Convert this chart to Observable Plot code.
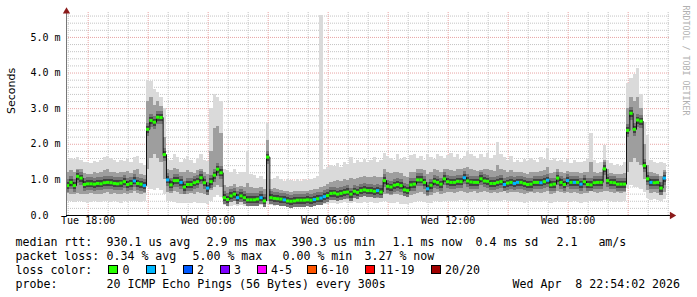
<!DOCTYPE html>
<html><head><meta charset="utf-8">
<script src="https://cdn.jsdelivr.net/npm/d3@7"></script>
<script src="https://cdn.jsdelivr.net/npm/@observablehq/plot@0.6"></script>
<style>
html,body{margin:0;padding:0;background:#fff;}
body{width:697px;height:297px;overflow:hidden;position:relative;font-family:"DejaVu Sans Mono",monospace;}
#chart{position:absolute;left:0;top:0;}
#legend{position:absolute;left:0;top:0;width:697px;height:297px;font-size:11.6px;color:#000;}
#legend .t{position:absolute;white-space:pre;line-height:14px;}
#legend .sw{position:absolute;box-sizing:border-box;width:10px;height:9px;border:1px solid #000;}
</style></head><body>
<div id="chart"></div><div id="legend"></div>
<script>
// ---- data: 10-minute steps starting Tue 16:55 ----
const med = [
0.84,0.93,0.84,1.10,1.05,0.87,0.89,0.89,0.88,0.90,
0.89,0.92,0.93,0.92,0.90,0.89,0.91,0.95,0.87,0.90,
0.97,0.90,0.88,0.84,2.42,2.67,2.62,2.76,2.75,1.71,
1.00,0.86,0.98,0.98,0.93,0.80,0.87,0.87,0.92,0.95,
1.06,0.92,0.77,0.95,1.13,1.30,1.20,0.50,0.45,0.55,
0.60,0.50,0.55,0.50,0.44,0.44,0.44,0.46,0.50,0.41,
1.64,0.50,0.48,0.47,0.46,0.44,0.41,0.40,0.41,0.43,
0.43,0.43,0.44,0.43,0.45,0.47,0.49,0.53,0.56,0.62,
0.63,0.60,0.62,0.65,0.66,0.60,0.68,0.65,0.70,0.72,
0.70,0.70,0.68,0.70,0.66,0.98,0.82,0.80,0.85,0.87,
0.84,0.72,0.70,0.86,0.88,1.00,1.00,0.93,0.75,0.85,
0.96,0.93,0.88,1.03,0.95,0.93,0.93,0.96,0.95,1.06,
0.97,0.94,0.93,0.93,1.03,0.97,0.96,0.90,0.90,0.93,
0.95,0.87,0.91,0.93,0.90,0.93,0.93,0.90,0.87,0.88,
0.93,0.93,0.92,0.95,0.99,0.86,0.88,1.05,0.93,0.87,
0.98,0.93,0.93,0.93,0.88,0.95,0.87,0.86,0.92,0.93,
0.93,1.31,0.98,0.93,0.92,0.88,0.88,0.88,2.39,2.87,
2.42,2.68,2.65,1.40,1.03,0.93,0.92,0.93,0.77,1.05];
const loss = [
0,0,0,0,0,0,0,0,0,0, 0,0,0,0,0,0,0,0,0,0,
1,0,0,1,0,0,0,0,0,0, 1,0,0,0,1,0,0,0,0,0,
0,0,1,0,0,0,0,0,0,0, 0,1,0,0,0,0,0,0,1,0,
0,0,0,0,0,1,0,0,0,0, 0,0,0,0,1,0,1,1,0,0,
0,0,0,0,0,0,0,0,0,0, 0,0,0,1,0,0,0,0,0,0,
0,0,0,0,0,0,0,0,1,0, 0,0,0,0,0,0,0,0,0,1,
0,0,0,0,0,0,0,0,0,0, 0,1,0,0,1,1,0,0,0,0,
0,0,1,0,1,0,0,0,0,0, 1,0,1,0,1,0,0,0,0,0,
0,0,0,0,0,0,0,0,0,0, 0,0,0,0,0,1,0,0,0,1];
const smokeTop = [
1.55,1.60,1.58,1.62,1.55,1.50,1.48,1.46,1.52,1.50,
1.55,1.62,1.65,1.60,1.55,1.50,1.55,1.52,1.58,1.50,
1.62,1.65,1.45,1.40,3.80,3.75,3.55,3.45,3.30,3.00,
1.60,1.55,1.70,1.62,1.50,1.58,1.66,1.55,1.45,1.60,
1.70,1.55,1.52,3.00,3.40,3.30,3.20,1.30,1.25,1.20,
1.28,1.15,1.22,1.20,1.80,1.15,1.12,1.05,1.10,1.00,
2.58,1.00,1.05,1.10,1.02,0.95,1.00,0.98,0.95,1.00,
0.95,1.02,0.98,1.00,1.05,1.10,5.62,1.30,1.35,1.40,
1.38,1.45,1.35,1.50,1.42,1.62,1.45,1.55,1.50,1.58,
1.48,1.55,1.62,1.50,1.55,1.74,1.65,1.60,1.55,1.70,
1.57,1.62,1.55,1.68,1.72,1.60,1.66,1.55,1.70,1.62,
1.58,1.72,1.66,1.60,1.68,1.75,1.62,1.70,1.58,1.66,
1.80,1.72,1.65,1.60,1.70,1.62,1.75,1.60,1.68,2.06,
1.70,1.62,1.55,1.66,1.50,1.55,1.50,1.58,1.52,1.60,
1.55,1.48,1.62,1.58,1.88,1.55,1.60,1.52,1.55,1.50,
1.58,1.45,1.55,1.50,1.48,1.52,1.58,2.30,1.55,1.45,
1.50,1.97,1.55,1.45,1.40,1.42,1.38,1.50,3.70,3.85,
3.95,4.13,3.40,2.60,2.25,1.55,1.50,1.45,1.50,1.46];
const smokeHi = [
1.20,1.25,1.22,1.30,1.28,1.18,1.15,1.16,1.20,1.18,
1.22,1.25,1.28,1.22,1.20,1.18,1.20,1.22,1.24,1.18,
1.26,1.28,1.15,1.12,3.20,3.30,3.10,3.20,3.05,2.20,
1.30,1.25,1.32,1.28,1.22,1.20,1.25,1.22,1.18,1.25,
1.30,1.22,1.15,1.80,2.45,2.50,2.30,0.85,0.80,0.82,
0.88,0.80,0.82,0.80,0.90,0.78,0.75,0.76,0.78,0.72,
2.10,0.72,0.75,0.74,0.70,0.68,0.66,0.65,0.66,0.68,
0.66,0.68,0.68,0.70,0.72,0.74,0.78,0.82,0.88,0.92,
0.95,0.98,0.95,1.00,0.98,1.05,1.02,1.05,1.08,1.10,
1.06,1.08,1.10,1.06,1.08,1.30,1.22,1.18,1.20,1.22,
1.18,1.10,1.08,1.20,1.22,1.28,1.30,1.25,1.15,1.20,
1.28,1.25,1.22,1.30,1.28,1.25,1.24,1.28,1.30,1.32,
1.35,1.28,1.25,1.24,1.26,1.28,1.30,1.25,1.24,1.40,
1.30,1.26,1.22,1.25,1.22,1.22,1.20,1.18,1.16,1.20,
1.22,1.20,1.24,1.25,1.35,1.18,1.20,1.28,1.22,1.18,
1.24,1.22,1.20,1.22,1.18,1.20,1.22,1.50,1.20,1.18,
1.22,1.55,1.30,1.18,1.16,1.15,1.15,1.18,3.00,3.30,
3.20,3.30,3.00,2.00,1.40,1.20,1.18,1.15,1.10,1.25];
const smokeLo = [
0.62,0.60,0.58,0.62,0.60,0.58,0.60,0.62,0.60,0.58,
0.60,0.62,0.64,0.60,0.62,0.60,0.58,0.62,0.60,0.62,
0.66,0.62,0.60,0.62,1.30,1.60,1.70,1.60,1.50,1.00,
0.65,0.62,0.66,0.64,0.60,0.58,0.60,0.62,0.60,0.64,
0.62,0.60,0.55,0.70,0.80,0.85,0.80,0.36,0.34,0.36,
0.38,0.35,0.36,0.34,0.33,0.34,0.33,0.34,0.35,0.32,
0.40,0.36,0.35,0.34,0.34,0.33,0.32,0.32,0.32,0.33,
0.33,0.33,0.34,0.33,0.34,0.36,0.38,0.40,0.42,0.44,
0.45,0.44,0.46,0.48,0.46,0.48,0.50,0.48,0.50,0.52,
0.50,0.52,0.50,0.48,0.50,0.60,0.58,0.55,0.58,0.60,
0.55,0.52,0.50,0.55,0.58,0.62,0.64,0.60,0.52,0.56,
0.62,0.64,0.60,0.62,0.65,0.64,0.62,0.64,0.66,0.65,
0.62,0.64,0.66,0.62,0.64,0.66,0.65,0.62,0.64,0.62,
0.64,0.66,0.62,0.64,0.65,0.64,0.62,0.60,0.62,0.64,
0.62,0.64,0.62,0.64,0.66,0.60,0.62,0.66,0.64,0.62,
0.64,0.62,0.64,0.62,0.60,0.62,0.62,0.66,0.64,0.62,
0.64,0.68,0.66,0.64,0.62,0.64,0.62,0.64,1.20,1.50,
1.60,1.50,1.40,1.00,0.70,0.62,0.64,0.62,0.58,0.64];
const smokeBot = [
0.40,0.38,0.36,0.38,0.40,0.36,0.35,0.36,0.38,0.36,
0.37,0.38,0.40,0.36,0.38,0.36,0.35,0.38,0.36,0.38,
0.40,0.38,0.36,0.40,0.80,0.72,0.70,0.75,0.70,0.60,
0.40,0.38,0.36,0.34,0.35,0.33,0.35,0.34,0.36,0.35,
0.34,0.33,0.32,0.38,0.50,0.55,0.50,0.28,0.26,0.25,
0.28,0.26,0.27,0.25,0.24,0.25,0.26,0.25,0.27,0.26,
0.30,0.27,0.26,0.27,0.26,0.25,0.26,0.26,0.25,0.27,
0.26,0.27,0.28,0.27,0.28,0.28,0.30,0.30,0.32,0.33,
0.34,0.32,0.35,0.36,0.33,0.35,0.36,0.34,0.35,0.37,
0.35,0.36,0.35,0.34,0.36,0.38,0.36,0.34,0.35,0.37,
0.32,0.30,0.31,0.34,0.36,0.38,0.40,0.37,0.33,0.35,
0.38,0.40,0.37,0.38,0.40,0.39,0.38,0.40,0.41,0.40,
0.38,0.40,0.41,0.38,0.40,0.41,0.40,0.38,0.40,0.38,
0.40,0.41,0.38,0.40,0.40,0.38,0.36,0.35,0.36,0.38,
0.36,0.38,0.36,0.38,0.40,0.35,0.36,0.38,0.37,0.36,
0.38,0.36,0.38,0.36,0.35,0.36,0.36,0.40,0.38,0.36,
0.38,0.42,0.40,0.38,0.36,0.38,0.36,0.38,0.75,0.85,
0.80,0.78,0.72,0.65,0.48,0.42,0.44,0.42,0.40,0.45];

const yTicks = [0, 1, 2, 3, 4, 5];
const yLabels = ["0.0", "1.0 m", "2.0 m", "3.0 m", "4.0 m", "5.0 m"];
const xLabelTimes = [new Date(Date.UTC(2026,3,7,18)), new Date(Date.UTC(2026,3,8,0)), new Date(Date.UTC(2026,3,8,6)), new Date(Date.UTC(2026,3,8,12)), new Date(Date.UTC(2026,3,8,18))];
const xLabels = ["Tue 18:00", "Wed 00:00", "Wed 06:00", "Wed 12:00", "Wed 18:00"];
const lossLabels = ["0", "1", "2", "3", "4-5", "6-10", "11-19", "20/20"];
const lossColors = ["#26ff00", "#00b8ff", "#0059ff", "#7e00ff", "#ff00ff", "#ff5500", "#ff0000", "#a00000"];
const statLines = [
  [[16,"median rtt:"],[107,"930.1 us avg"],[207,"2.9 ms max"],[292,"390.3 us min"],[393,"1.1 ms now"],[476,"0.4 ms sd"],[557,"2.1   am/s"]],
  [[16,"packet loss:"],[107,"0.34 % avg"],[193,"5.00 % max"],[283,"0.00 % min"],[365,"3.27 % now"]],
  [[16,"loss color:"]],
  [[16,"probe:"],[107,"20 ICMP Echo Pings (56 Bytes) every 300s"],[513,"Wed Apr  8 22:54:02 2026"]]
];

// ---- build table ----
const startMs = Date.UTC(2026,3,7,16,55);
const stepMs = 10 * 60000;
const rows = med.map((m, i) => ({
  t0: new Date(startMs + i * stepMs), t1: new Date(startMs + (i + 1) * stepMs),
  med: m, loss: loss[i], top: smokeTop[i], hi: smokeHi[i], lo: smokeLo[i], bot: smokeBot[i]
}));
const xDomain = [new Date(startMs), new Date(Date.UTC(2026,3,8,23,7))];
const hours = d3.utcHour.range(xDomain[0], xDomain[1]);
const minorX = hours.filter(d => d.getUTCHours() % 3 !== 0);
const majorX = hours.filter(d => d.getUTCHours() % 3 === 0);
const minorY = d3.range(1, 29).map(k => k * 0.2).filter(v => Math.abs(v - Math.round(v)) > 1e-6);
const majorY = [1, 2, 3, 4, 5];

const minorColor = "#c4c4c4", majorColor = "#e8a4a4";
const chart = Plot.plot({
  width: 697, height: 230,
  marginLeft: 66, marginRight: 27, marginTop: 12, marginBottom: 15,
  x: {type: "utc", domain: xDomain, axis: null},
  y: {domain: [0, 5.7], axis: null},
  color: {type: "identity"},
  style: {background: "#fff", fontFamily: "'DejaVu Sans Mono', monospace", overflow: "visible"},
  marks: [
    Plot.ruleY(minorY, {stroke: minorColor, strokeDasharray: "1,1"}),
    Plot.ruleX(minorX, {stroke: minorColor, strokeDasharray: "1,1"}),
    Plot.ruleY(majorY, {stroke: majorColor, strokeDasharray: "1,1"}),
    Plot.ruleX(majorX, {stroke: majorColor, strokeDasharray: "1,1"}),
    Plot.rect(rows, {x1: "t0", x2: "t1", y1: "bot", y2: "top", fill: "#dadada", shapeRendering: "crispEdges"}),
    Plot.rect(rows, {x1: "t0", x2: "t1", y1: "lo", y2: "hi", fill: "#9e9e9e", shapeRendering: "crispEdges"}),
    Plot.ruleY(rows, {x1: "t0", x2: "t1", y: "med", stroke: "#767676", strokeWidth: 13, shapeRendering: "crispEdges"}),
    Plot.ruleY(rows, {x1: "t0", x2: "t1", y: "med", stroke: "#424242", strokeWidth: 7, shapeRendering: "crispEdges"}),
    Plot.lineY(rows, {x: "t0", y: "med", curve: "step-after", stroke: "#111", strokeWidth: 1}),
    Plot.ruleY(rows, {x1: "t0", x2: "t1", y: "med", stroke: d => lossColors[d.loss], strokeWidth: 3}),
    // axes
    Plot.ruleX([xDomain[0]], {stroke: "#777"}),
    Plot.ruleY([0], {stroke: "#000"}),
    Plot.dot([0], {frameAnchor: "top-left", symbol: "triangle", r: 2.7, fill: "#8b1a1a", dy: -1}),
    Plot.dot([0], {frameAnchor: "bottom-right", symbol: "triangle", r: 2.7, fill: "#8b1a1a", rotate: 90, dx: 1.5}),
    Plot.text(yTicks, {y: d => d, text: (d, i) => yLabels[i], frameAnchor: "left", dx: -36, textAnchor: "start", fontSize: 10, fill: "#000"}),
    Plot.text(xLabelTimes, {x: d => d, text: (d, i) => xLabels[i], frameAnchor: "bottom", dy: 8.5, fontSize: 10, fill: "#000"}),
    Plot.text(["Seconds"], {frameAnchor: "left", rotate: -90, dx: -55.5, fontSize: 11, fontFamily: "'DejaVu Sans', sans-serif", fill: "#000"}),
    Plot.text(["RRDTOOL / TOBI OETIKER"], {frameAnchor: "top-right", rotate: 90, dx: 18, dy: -7, textAnchor: "start", fontSize: 8.3, fill: "#b0b0b0"})
  ]
});
document.getElementById("chart").appendChild(chart);

// ---- legend below the plot ----
const legend = document.getElementById("legend");
const lineTops = [235, 249, 263, 277];
statLines.forEach((items, li) => {
  items.forEach(([x, s]) => {
    const e = document.createElement("span");
    e.className = "t"; e.textContent = s;
    e.style.left = (x - 0.5) + "px"; e.style.top = lineTops[li] + "px";
    legend.appendChild(e);
  });
});
const swX = [108, 145.5, 182.5, 219.5, 256.5, 306.5, 365, 430.5];
lossLabels.forEach((lab, k) => {
  const s = document.createElement("div");
  s.className = "sw"; s.style.left = swX[k] + "px"; s.style.top = "265px"; s.style.background = lossColors[k];
  legend.appendChild(s);
  const e = document.createElement("span");
  e.className = "t"; e.textContent = lab;
  e.style.left = (swX[k] + 14.5) + "px"; e.style.top = lineTops[2] + "px";
  legend.appendChild(e);
});
</script>
</body></html>
